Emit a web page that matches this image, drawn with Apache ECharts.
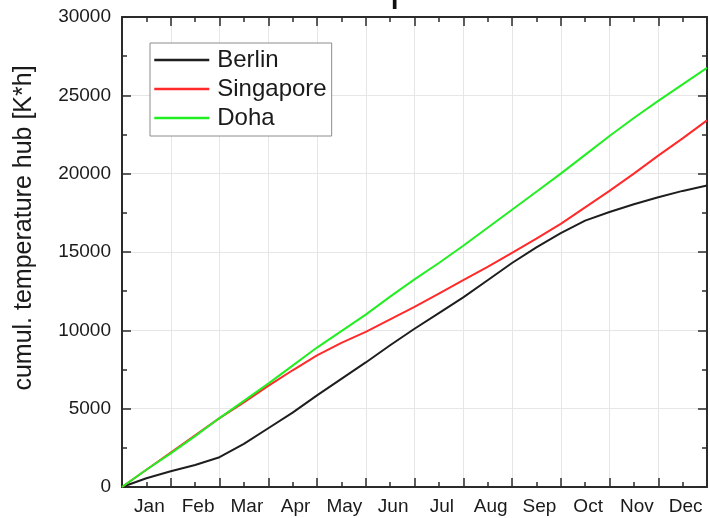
<!DOCTYPE html>
<html>
<head>
<meta charset="utf-8">
<title>cumul. temperature hub</title>
<script src="https://cdn.jsdelivr.net/npm/echarts@6/dist/echarts.min.js"></script>
<style>
  html, body { margin: 0; padding: 0; background: #fff; }
  #chart { width: 710px; height: 518px; }
</style>
</head>
<body>
<div id="chart"></div>
<script>
// Month labels shown under the x axis
const months = ['Jan', 'Feb', 'Mar', 'Apr', 'May', 'Jun', 'Jul', 'Aug', 'Sep', 'Oct', 'Nov', 'Dec'];

// Sampling positions in months since 1 January (half-month steps)
const monthPos = [0, 0.5, 1, 1.5, 2, 2.5, 3, 3.5, 4, 4.5, 5, 5.5, 6, 6.5, 7, 7.5, 8, 8.5, 9, 9.5, 10, 10.5, 11, 11.5, 12];

// Cumulative temperature hub in K*h
const berlin = [0, 560, 1000, 1400, 1900, 2750, 3750, 4750, 5850, 6900, 7950, 9050, 10100, 11100, 12100, 13200, 14300, 15300, 16200, 17000, 17550, 18050, 18500, 18900, 19250];
const singapore = [0, 1100, 2200, 3300, 4400, 5400, 6450, 7450, 8400, 9200, 9900, 10700, 11500, 12350, 13200, 14050, 14950, 15850, 16800, 17850, 18900, 20000, 21150, 22250, 23400];
const doha = [0, 1100, 2150, 3250, 4400, 5500, 6600, 7750, 8900, 9950, 11000, 12150, 13250, 14300, 15400, 16550, 17700, 18850, 20000, 21200, 22400, 23550, 24650, 25700, 26750];

// Y axis range and step
const yMin = 0, yMax = 30000, yStep = 5000;

const pairs = (vals) => vals.map((v, i) => [monthPos[i], v]);

const FONT = 'Liberation Sans, Arial, Helvetica, sans-serif';
const AXIS_COLOR = '#2b2b2b';
const GRID_COLOR = '#e6e6e6';

const gridBox = { left: 122, right: 3, top: 17, bottom: 31, containLabel: false };

const chart = echarts.init(document.getElementById('chart'), null, { renderer: 'canvas' });

const mirrorTicks = {
  axisTick: { show: true, inside: true, length: 9, lineStyle: { color: AXIS_COLOR, width: 1.5 } },
  minorTick: { show: true, splitNumber: 2, length: 5, lineStyle: { color: AXIS_COLOR, width: 1.5 } },
  axisLine: { show: true, onZero: false, lineStyle: { color: AXIS_COLOR, width: 2 } }
};

chart.setOption({
  backgroundColor: '#ffffff',
  animation: false,
  textStyle: { fontFamily: FONT },
  grid: [gridBox, Object.assign({}, gridBox)],
  xAxis: [
    Object.assign({
      type: 'value', gridIndex: 0, position: 'bottom',
      min: 0, max: 12, interval: 1,
      axisLabel: { show: false },
      splitLine: { show: true, lineStyle: { color: GRID_COLOR, width: 1 } }
    }, mirrorTicks),
    Object.assign({
      type: 'value', gridIndex: 0, position: 'top',
      min: 0, max: 12, interval: 1,
      axisLabel: { show: false },
      splitLine: { show: false }
    }, mirrorTicks),
    {
      type: 'category', gridIndex: 1, position: 'bottom',
      data: months, boundaryGap: true,
      axisLine: { show: false }, axisTick: { show: false },
      splitLine: { show: false },
      axisLabel: { fontSize: 19, color: '#1a1a1a', margin: 10, fontFamily: FONT, padding: [0, 0, 0, 6] }
    }
  ],
  yAxis: [
    Object.assign({
      type: 'value', gridIndex: 0, position: 'left',
      min: yMin, max: yMax, interval: yStep,
      axisLabel: {
        fontSize: 19, color: '#1a1a1a', margin: 11, fontFamily: FONT,
        formatter: (v) => String(v)
      },
      splitLine: { show: true, lineStyle: { color: GRID_COLOR, width: 1 } }
    }, mirrorTicks),
    Object.assign({
      type: 'value', gridIndex: 0, position: 'right',
      min: yMin, max: yMax, interval: yStep,
      axisLabel: { show: false },
      splitLine: { show: false }
    }, mirrorTicks),
    {
      type: 'value', gridIndex: 1, min: yMin, max: yMax,
      show: false
    }
  ],
  legend: {
    orient: 'vertical',
    left: 150, top: 43,
    padding: [5, 5, 6, 3],
    itemGap: 5,
    itemWidth: 55,
    itemHeight: 24,
    backgroundColor: '#ffffff',
    borderColor: '#8c8c8c',
    borderWidth: 1,
    borderRadius: 0,
    itemStyle: { opacity: 0 },
    lineStyle: { width: 2.5 },
    textStyle: { fontSize: 24, color: '#1a1a1a', fontFamily: FONT, padding: [0, 0, 0, 3] },
    data: ['Berlin', 'Singapore', 'Doha']
  },
  graphic: [
    {
      type: 'text',
      x: 24, y: 228,
      rotation: Math.PI / 2,
      style: {
        text: 'cumul. temperature hub [K*h]',
        fontSize: 25, fontFamily: FONT, fill: '#1a1a1a',
        textAlign: 'center', textVerticalAlign: 'middle'
      }
    },
    {
      // plot heading, sitting above the top edge of the canvas
      type: 'text',
      x: 390, y: 9,
      style: {
        text: 'p',
        fontSize: 42, fontFamily: FONT, fill: '#111',
        textAlign: 'left', textVerticalAlign: 'bottom'
      }
    }
  ],
  series: [
    {
      name: 'Berlin', type: 'line', xAxisIndex: 0, yAxisIndex: 0,
      data: pairs(berlin), symbol: 'none', smooth: false,
      lineStyle: { color: '#1e1e1e', width: 2 }, itemStyle: { color: '#1e1e1e' }
    },
    {
      name: 'Singapore', type: 'line', xAxisIndex: 0, yAxisIndex: 0,
      data: pairs(singapore), symbol: 'none', smooth: false,
      lineStyle: { color: '#ff2a2a', width: 2 }, itemStyle: { color: '#ff2a2a' }
    },
    {
      name: 'Doha', type: 'line', xAxisIndex: 0, yAxisIndex: 0,
      data: pairs(doha), symbol: 'none', smooth: false,
      lineStyle: { color: '#22ee22', width: 2 }, itemStyle: { color: '#22ee22' }
    }
  ]
});
</script>
</body>
</html>
